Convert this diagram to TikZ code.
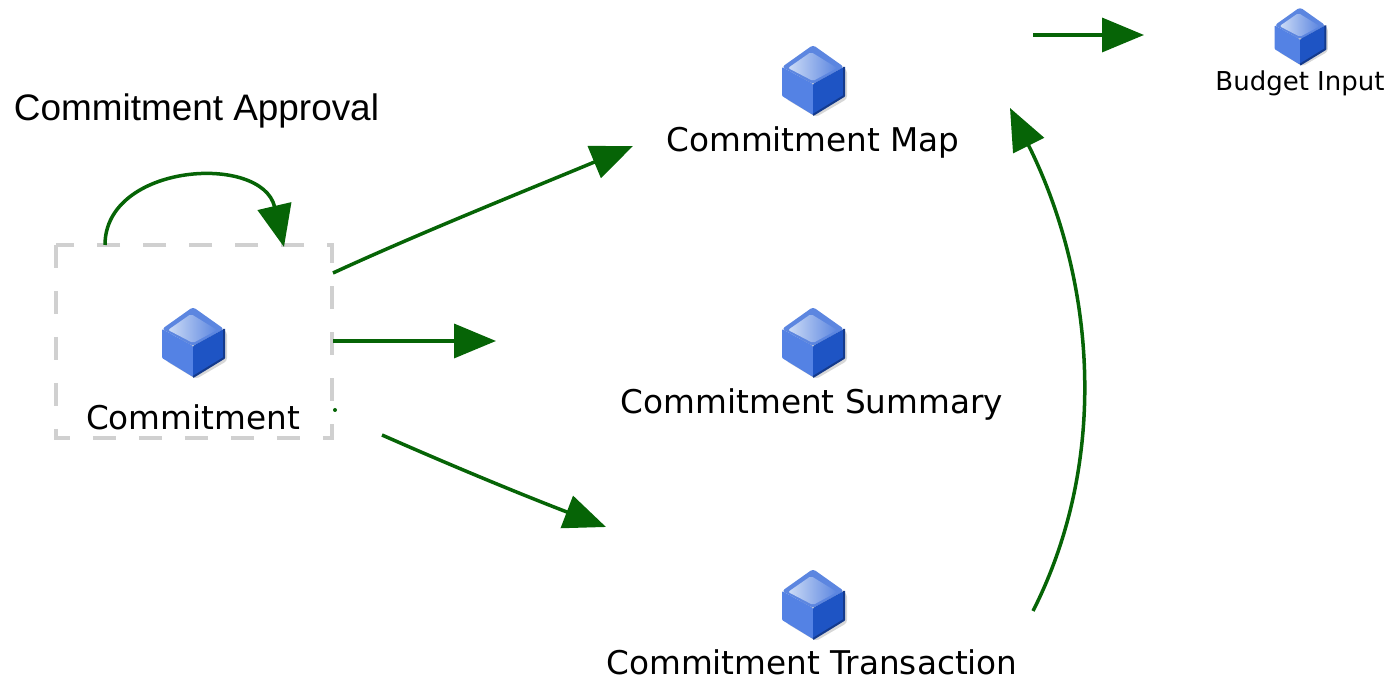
\documentclass[tikz,border=0pt]{standalone}
\usepackage{fontspec}
\setmainfont{Liberation Sans}
\newfontfamily\iconfont{DejaVu Sans}
\usetikzlibrary{arrows.meta}
\definecolor{flowgreen}{RGB}{6,100,6}
\definecolor{boxgray}{RGB}{208,208,208}
\definecolor{cubetop}{RGB}{205,220,246}
\definecolor{cubemid}{RGB}{92,134,224}
\definecolor{cubeleft}{RGB}{84,130,228}
\definecolor{cuberight}{RGB}{30,84,196}
\definecolor{cubeedge}{RGB}{20,58,140}
\tikzset{
  flow/.style={draw=flowgreen,line width=0.035cm,-{Triangle[length=0.42cm,width=0.34cm]}},
  iconlabel/.style={font=\iconfont\fontsize{9.3}{11}\selectfont,inner sep=0pt,text=black},
  cube/.pic={
    \fill[black!35,opacity=.45,rounded corners=0.03cm] (0.03,0.30) -- (0.34,0.1) -- (0.34,-0.19) -- (0.03,-0.37) -- (-0.27,-0.19) -- cycle;
    \fill[cubemid,rounded corners=0.03cm] (0,0.35) -- (0.31,0.13) -- (0,-0.04) -- (-0.31,0.13) -- cycle;
    \shade[left color=cubetop,right color=cubemid,rounded corners=0.02cm] (-0.02,0.28) -- (0.24,0.12) -- (0,-0.01) -- (-0.25,0.12) -- cycle;
    \fill[cubeleft,rounded corners=0.01cm] (-0.31,0.13) -- (0,-0.04) -- (0,-0.35) -- (-0.31,-0.16) -- cycle;
    \fill[cuberight,rounded corners=0.01cm] (0.31,0.13) -- (0,-0.04) -- (0,-0.35) -- (0.31,-0.16) -- cycle;
    \draw[cubeedge,line width=0.02cm,line join=round] (0.31,0.13) -- (0.31,-0.16) -- (0,-0.35);
  }
}
\begin{document}
\begin{tikzpicture}[x=1cm,y=1cm]
\useasboundingbox (0,0) rectangle (14,6.79);
% boxes and labels
\draw[boxgray,line width=0.04cm,dash pattern=on 0.23cm off 0.23cm] (0.56,4.34) rectangle (3.32,2.41);
\coordinate (commitmentcube) at (1.93,3.37);
\coordinate (mapcube) at (8.13,5.99);
\coordinate (summarycube) at (8.13,3.37);
\coordinate (transactioncube) at (8.13,0.75);
\coordinate (budgetcube) at (13.0,6.43);
\pic at (commitmentcube) {cube};
\pic at (mapcube) {cube};
\pic at (summarycube) {cube};
\pic at (transactioncube) {cube};
\pic[scale=0.82] at (budgetcube) {cube};
\node[font=\fontsize{10.5}{12}\selectfont,inner sep=0pt] (title) at (1.965,5.68) {Commitment Approval};
\node[iconlabel] (commitment) at (1.93,2.62) {Commitment};
\node[iconlabel] (map) at (8.13,5.37) {Commitment Map};
\node[iconlabel] (summary) at (8.12,2.75) {Commitment Summary};
\node[iconlabel] (transaction) at (8.12,0.17) {Commitment Transaction};
\node[iconlabel,font=\iconfont\fontsize{7.4}{9}\selectfont] (budget) at (13.0,5.96) {Budget Input};
% free ends of the arrows
\coordinate (loopa) at (1.05,4.34);
\coordinate (loopb) at (2.84,4.32);
\coordinate (mapa) at (3.33,4.06);
\coordinate (mapb) at (6.33,5.33);
\coordinate (suma) at (3.33,3.38);
\coordinate (sumb) at (4.96,3.38);
\coordinate (trana) at (3.82,2.44);
\coordinate (tranb) at (6.06,1.52);
\coordinate (backa) at (10.33,0.68);
\coordinate (backb) at (10.10,5.71);
\coordinate (buda) at (10.33,6.44);
\coordinate (budb) at (11.44,6.44);
\draw[flow] (loopa) .. controls (1.05,5.16) and (2.62,5.26) .. (loopb);
\draw[flow] (mapa) .. controls (4.2,4.46) and (5.2,4.86) .. (mapb);
\draw[flow] (suma) -- (sumb);
\draw[flow] (trana) .. controls (4.5,2.14) and (5.2,1.85) .. (tranb);
\draw[flow] (backa) .. controls (11.1,2.2) and (10.95,4.0) .. (backb);
\draw[flow] (buda) -- (budb);
\fill[flowgreen] (3.35,2.69) circle (0.02);
\end{tikzpicture}
\end{document}
